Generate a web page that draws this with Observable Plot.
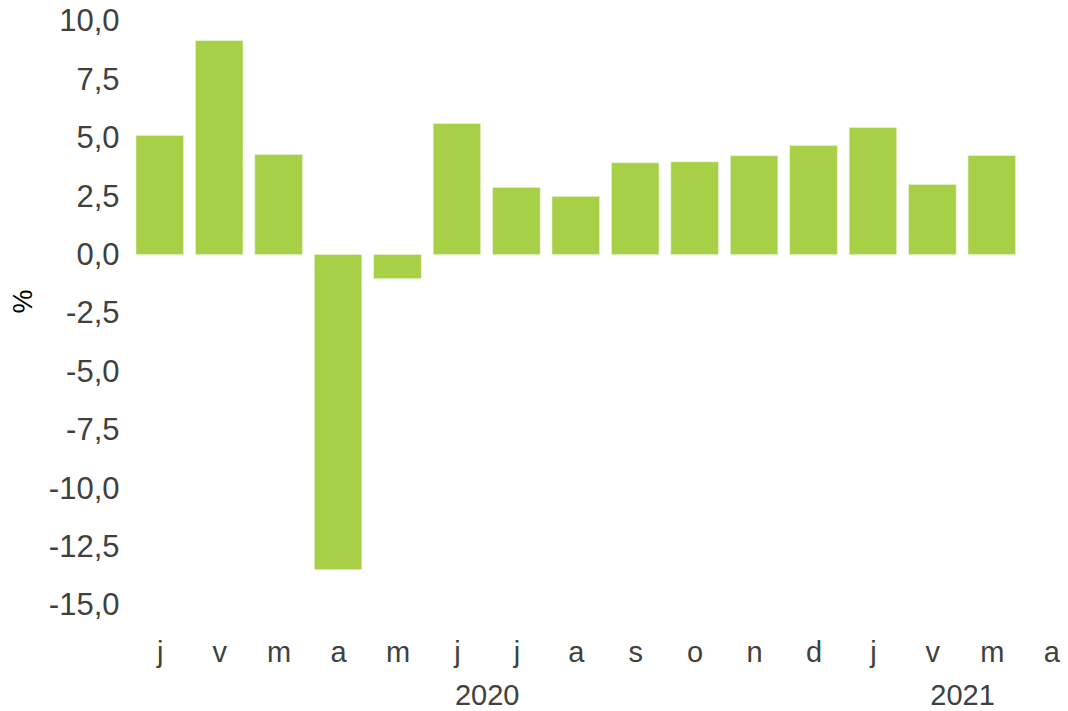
<!DOCTYPE html>
<html>
<head>
<meta charset="utf-8">
<script src="https://cdn.jsdelivr.net/npm/d3@7"></script>
<script src="https://cdn.jsdelivr.net/npm/@observablehq/plot@0.6"></script>
<style>
  html, body { margin: 0; padding: 0; background: #fff; }
</style>
</head>
<body>
<div id="chart"></div>
<script>
// Categories (month keys) and their one-letter labels
const monthKeys = ["2020-01","2020-02","2020-03","2020-04","2020-05","2020-06","2020-07","2020-08","2020-09","2020-10","2020-11","2020-12","2021-01","2021-02","2021-03","2021-04"];
const monthLabels = ["j","v","m","a","m","j","j","a","s","o","n","d","j","v","m","a"];
// Values (%)
const values = [5.10, 9.16, 4.29, -13.49, -1.03, 5.61, 2.88, 2.49, 3.93, 3.97, 4.23, 4.67, 5.44, 3.00, 4.24, null];
// Year labels, anchored between the two central months of each year group
const yearLabels = ["2020", "2021"];
const yearAnchors = ["2020-06", "2021-02"];
const yTicks = [10, 7.5, 5, 2.5, 0, -2.5, -5, -7.5, -10, -12.5, -15];

const data = monthKeys.map((k, i) => ({key: k, label: monthLabels[i], value: values[i]})).filter(d => d.value != null);
const labelOf = new Map(monthKeys.map((k, i) => [k, monthLabels[i]]));
const years = yearLabels.map((y, i) => ({year: y, key: yearAnchors[i]}));

const W = 1068, H = 711;
const xRange = [136, 1075];
const paddingInner = 0.2;
const step = (xRange[1] - xRange[0]) / (monthKeys.length - paddingInner);
const fmt = v => d3.format(".1f")(v).replace("\u2212", "-").replace(".", ",");

const chart = Plot.plot({
  width: W,
  height: H,
  marginTop: 21,
  marginBottom: 106,
  marginLeft: 136,
  marginRight: 0,
  style: {fontFamily: "'Liberation Sans', Arial, sans-serif", background: "#fff"},
  x: {domain: monthKeys, range: xRange, paddingInner: paddingInner, paddingOuter: 0, align: 0.5, round: false},
  y: {domain: [-15, 10]},
  marks: [
    Plot.barY(data, {x: "key", y: "value", fill: "#a7d046", stroke: "#e9f3d2", strokeWidth: 0.6}),
    Plot.axisX({tickSize: 0, tickPadding: 36, tickFormat: k => labelOf.get(k), fontSize: 29, fill: "#404040", label: null}),
    Plot.axisY({ticks: yTicks, tickSize: 0, tickPadding: 17, tickFormat: fmt, fontSize: 31, fill: "#404040", label: null}),
    Plot.text(years, {x: "key", text: "year", frameAnchor: "bottom", dy: 90, dx: step / 2, fontSize: 29, fill: "#404040", lineAnchor: "middle"}),
    Plot.text(["%"], {frameAnchor: "left", rotate: -90, dx: -113, fontSize: 27, fill: "#000", text: d => d})
  ]
});
document.getElementById("chart").appendChild(chart);
</script>
</body>
</html>
